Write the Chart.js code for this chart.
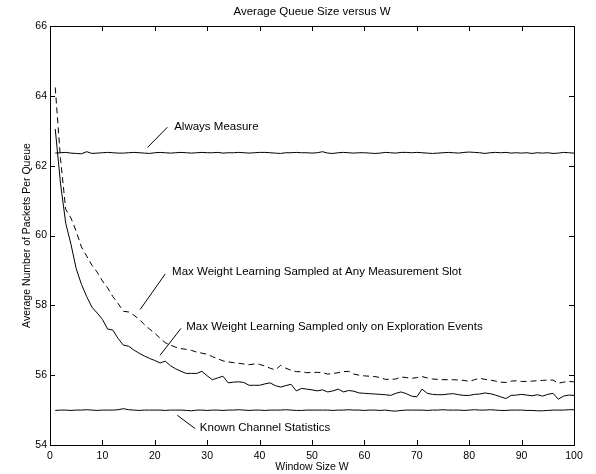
<!DOCTYPE html>
<html lang="en">
<head>
<meta charset="UTF-8">
<title>Average Queue Size versus W</title>
<script src="https://cdn.jsdelivr.net/npm/chart.js"></script>
<style>
    body { margin: 0; background: #ffffff; }
    #wrap { width: 596px; height: 474px; }
</style>
</head>
<body>
<div id="wrap"><canvas id="queueChart" width="596" height="474"></canvas></div>
<script>
// window sizes (x axis)
const windowSizes = [
    1, 2, 3, 4, 5, 6, 7, 8, 9, 10,
    11, 12, 13, 14, 15, 16, 17, 18, 19, 20,
    21, 22, 23, 24, 25, 26, 27, 28, 29, 30,
    31, 32, 33, 34, 35, 36, 37, 38, 39, 40,
    41, 42, 43, 44, 45, 46, 47, 48, 49, 50,
    51, 52, 53, 54, 55, 56, 57, 58, 59, 60,
    61, 62, 63, 64, 65, 66, 67, 68, 69, 70,
    71, 72, 73, 74, 75, 76, 77, 78, 79, 80,
    81, 82, 83, 84, 85, 86, 87, 88, 89, 90,
    91, 92, 93, 94, 95, 96, 97, 98, 99, 100
];

const alwaysMeasure = [
    62.36, 62.37, 62.38, 62.36, 62.35, 62.34, 62.40, 62.35, 62.36, 62.37,
    62.38, 62.37, 62.36, 62.36, 62.37, 62.38, 62.37, 62.36, 62.35, 62.37,
    62.38, 62.37, 62.36, 62.37, 62.38, 62.37, 62.36, 62.37, 62.38, 62.37,
    62.37, 62.38, 62.36, 62.37, 62.37, 62.38, 62.37, 62.36, 62.37, 62.38,
    62.38, 62.37, 62.36, 62.35, 62.37, 62.37, 62.38, 62.37, 62.37, 62.36,
    62.37, 62.40, 62.36, 62.35, 62.37, 62.38, 62.37, 62.36, 62.37, 62.37,
    62.36, 62.35, 62.36, 62.38, 62.37, 62.36, 62.38, 62.38, 62.37, 62.38,
    62.37, 62.36, 62.35, 62.36, 62.37, 62.38, 62.37, 62.36, 62.38, 62.39,
    62.38, 62.37, 62.35, 62.37, 62.38, 62.37, 62.38, 62.36, 62.37, 62.36,
    62.37, 62.35, 62.37, 62.36, 62.37, 62.35, 62.36, 62.38, 62.37, 62.36
];

const sampledAnySlot = [
    64.24, 62.20, 60.75, 60.50, 60.12, 59.67, 59.41, 59.15, 58.95, 58.70,
    58.50, 58.25, 58.05, 57.83, 57.81, 57.72, 57.60, 57.45, 57.32, 57.20,
    57.06, 56.93, 56.86, 56.80, 56.76, 56.74, 56.71, 56.66, 56.63, 56.60,
    56.53, 56.47, 56.41, 56.38, 56.36, 56.34, 56.32, 56.30, 56.32, 56.31,
    56.26, 56.20, 56.15, 56.28, 56.20, 56.14, 56.10, 56.10, 56.07, 56.08,
    56.08, 56.07, 56.03, 56.05, 56.07, 56.10, 56.11, 56.03, 56.00, 55.98,
    55.97, 55.96, 55.93, 55.88, 55.88, 55.89, 55.95, 55.93, 55.91, 55.93,
    55.96, 55.92, 55.89, 55.88, 55.87, 55.87, 55.87, 55.86, 55.85, 55.82,
    55.87, 55.91, 55.88, 55.86, 55.83, 55.80, 55.79, 55.83, 55.84, 55.82,
    55.82, 55.83, 55.84, 55.85, 55.86, 55.86, 55.77, 55.80, 55.82, 55.81
];

const sampledExploration = [
    63.05, 61.50, 60.35, 59.75, 59.05, 58.60, 58.25, 57.95, 57.78, 57.60,
    57.32, 57.29, 57.05, 56.86, 56.83, 56.72, 56.63, 56.55, 56.48, 56.42,
    56.35, 56.40, 56.27, 56.18, 56.11, 56.05, 56.05, 56.05, 56.11, 55.98,
    55.87, 55.92, 55.97, 55.78, 55.80, 55.81, 55.79, 55.71, 55.71, 55.71,
    55.75, 55.78, 55.70, 55.66, 55.70, 55.74, 55.55, 55.62, 55.60, 55.58,
    55.55, 55.58, 55.52, 55.55, 55.60, 55.52, 55.56, 55.54, 55.49, 55.48,
    55.47, 55.46, 55.45, 55.44, 55.42, 55.48, 55.52, 55.47, 55.40, 55.38,
    55.60, 55.48, 55.45, 55.44, 55.44, 55.46, 55.47, 55.44, 55.42, 55.42,
    55.45, 55.46, 55.49, 55.47, 55.43, 55.38, 55.33, 55.42, 55.43, 55.45,
    55.43, 55.41, 55.44, 55.40, 55.45, 55.48, 55.31, 55.40, 55.43, 55.42
];

const knownChannel = [
    54.99, 55.00, 55.00, 54.99, 55.00, 55.00, 55.01, 55.00, 54.99, 55.00,
    55.00, 55.00, 55.01, 55.04, 55.01, 55.00, 54.99, 55.00, 55.00, 55.00,
    55.00, 54.99, 55.00, 55.00, 55.00, 54.99, 54.98, 55.00, 55.00, 54.99,
    55.00, 55.00, 54.99, 55.00, 55.00, 55.01, 55.00, 54.99, 55.00, 55.00,
    54.99, 55.00, 55.00, 55.00, 55.01, 55.00, 54.99, 54.99, 55.00, 55.00,
    55.00, 55.00, 55.00, 54.99, 55.00, 55.00, 55.01, 55.00, 55.00, 54.99,
    55.00, 55.00, 54.99, 55.00, 54.98, 54.97, 54.99, 55.00, 55.00, 55.00,
    55.00, 54.99, 55.00, 55.00, 55.01, 55.00, 55.00, 55.00, 54.99, 55.00,
    55.01, 55.00, 55.00, 55.01, 55.00, 54.99, 54.99, 55.00, 55.00, 55.00,
    54.99, 54.99, 54.98, 54.98, 54.99, 55.00, 55.00, 55.00, 55.01, 55.01
];

// labels with leader lines, in data units
const notes = [
    { text: 'Always Measure', at: [23.7, 63.11], from: [22.4, 63.10], to: [18.6, 62.52] },
    { text: 'Max Weight Learning Sampled at Any Measurement Slot', at: [23.3, 58.96], from: [22.0, 58.90], to: [17.2, 57.88] },
    { text: 'Max Weight Learning Sampled only on Exploration Events', at: [26.0, 57.38], from: [25.0, 57.34], to: [21.0, 56.57] },
    { text: 'Known Channel Statistics', at: [28.6, 54.50], from: [24.3, 54.85], to: [27.7, 54.47] }
];

const FONT = '"Liberation Sans", Arial, Helvetica, sans-serif';

function toPoints(values) {
    return windowSizes.map((w, i) => ({ x: w, y: values[i] }));
}

function lineSet(label, values, dash) {
    return {
        label: label,
        data: toPoints(values),
        borderColor: '#000000',
        borderWidth: 1,
        borderDash: dash,
        pointRadius: 0,
        tension: 0,
        fill: false
    };
}

// frame, inward ticks, title, axis labels and annotations (MATLAB look)
const matlabAxes = {
    id: 'matlabAxes',
    afterDraw(chart) {
        const ctx = chart.ctx;
        const a = chart.chartArea;
        const xs = chart.scales.x, ys = chart.scales.y;
        const tick = 5;
        ctx.save();
        ctx.strokeStyle = '#000000';
        ctx.lineWidth = 1;
        ctx.setLineDash([]);
        ctx.beginPath();
        xs.ticks.forEach(t => {
            const px = Math.round(xs.getPixelForValue(t.value)) + 0.5;
            ctx.moveTo(px, a.bottom); ctx.lineTo(px, a.bottom - tick);
            ctx.moveTo(px, a.top); ctx.lineTo(px, a.top + tick);
        });
        ys.ticks.forEach(t => {
            const py = Math.round(ys.getPixelForValue(t.value)) + 0.5;
            ctx.moveTo(a.left, py); ctx.lineTo(a.left + tick, py);
            ctx.moveTo(a.right, py); ctx.lineTo(a.right - tick, py);
        });
        ctx.stroke();
        ctx.strokeRect(Math.round(a.left) + 0.5, Math.round(a.top) + 0.5,
            Math.round(a.right - a.left), Math.round(a.bottom - a.top));

        ctx.fillStyle = '#000000';
        ctx.textBaseline = 'middle';
        ctx.textAlign = 'center';
        ctx.font = '11.5px ' + FONT;
        ctx.fillText('Average Queue Size versus W', (a.left + a.right) / 2, 12);
        ctx.font = '10.5px ' + FONT;
        ctx.fillText('Window Size W', (a.left + a.right) / 2, 467);
        ctx.save();
        ctx.translate(27, (a.top + a.bottom) / 2);
        ctx.rotate(-Math.PI / 2);
        ctx.fillText('Average Number of Packets Per Queue', 0, 0);
        ctx.restore();

        ctx.textAlign = 'left';
        ctx.font = '11.5px ' + FONT;
        notes.forEach(n => {
            ctx.beginPath();
            ctx.moveTo(xs.getPixelForValue(n.from[0]), ys.getPixelForValue(n.from[1]));
            ctx.lineTo(xs.getPixelForValue(n.to[0]), ys.getPixelForValue(n.to[1]));
            ctx.stroke();
            ctx.fillText(n.text, xs.getPixelForValue(n.at[0]), ys.getPixelForValue(n.at[1]));
        });
        ctx.restore();
    }
};

new Chart(document.getElementById('queueChart'), {
    type: 'line',
    data: {
        datasets: [
            lineSet('Always Measure', alwaysMeasure, []),
            lineSet('Max Weight Learning Sampled at Any Measurement Slot', sampledAnySlot, [6, 4]),
            lineSet('Max Weight Learning Sampled only on Exploration Events', sampledExploration, []),
            lineSet('Known Channel Statistics', knownChannel, [])
        ]
    },
    options: {
        responsive: false,
        animation: false,
        devicePixelRatio: 1,
        layout: { padding: { left: 0, right: 22, top: 26, bottom: 0 } },
        plugins: {
            legend: { display: false },
            tooltip: { enabled: false },
            title: { display: false }
        },
        scales: {
            x: {
                type: 'linear',
                min: 0,
                max: 100,
                grid: { display: false, drawTicks: false },
                border: { display: false },
                ticks: { stepSize: 10, padding: 5, color: '#000000', font: { family: FONT, size: 10.5 }, maxRotation: 0 },
                afterFit(scale) { scale.height = 29; }
            },
            y: {
                type: 'linear',
                min: 54,
                max: 66,
                grid: { display: false, drawTicks: false },
                border: { display: false },
                ticks: { stepSize: 2, padding: 3, color: '#000000', font: { family: FONT, size: 10.5 } },
                afterFit(scale) { scale.width = 50; }
            }
        }
    },
    plugins: [matlabAxes]
});
</script>
</body>
</html>
